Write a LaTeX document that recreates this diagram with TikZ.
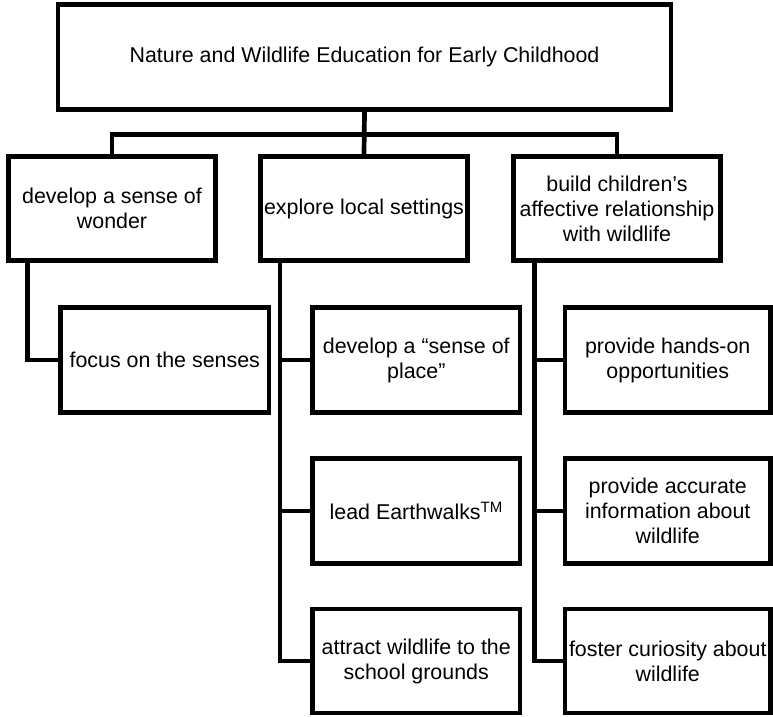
\documentclass[tikz,border=0pt]{standalone}
\usepackage{fontspec}
\setmainfont{Liberation Sans}
\begin{document}
\begin{tikzpicture}[x=1pt,y=-1pt,
  box/.style={draw=black, line width=4.7pt, inner sep=0pt, align=center,
    font=\fontsize{21.4}{25}\selectfont, fill=white},
  conn/.style={draw=black, line width=4.7pt, line join=miter}]
\useasboundingbox (0,0) rectangle (773,716);
% top
\node[box, minimum width=613pt, minimum height=105pt] (top) at (364.5,57) {Nature and Wildlife Education for Early Childhood};
% row 1
\node[box, minimum width=207pt, minimum height=104pt] (b1) at (112,208.5) {develop a sense of\\wonder};
\node[box, minimum width=207pt, minimum height=104pt] (b2) at (364,208.5) {explore local settings};
\node[box, minimum width=207pt, minimum height=104pt] (b3) at (617,208.5) {build children’s\\affective relationship\\with wildlife};
% column 1 child
\node[box, minimum width=208.5pt, minimum height=105pt] (s1) at (164.75,360) {focus on the senses};
% column 2 children
\node[box, minimum width=207.5pt, minimum height=105pt] (e1) at (416.25,360) {develop a “sense of\\place”};
\node[box, minimum width=207.5pt, minimum height=105pt] (e2) at (416.25,511) {lead Earthwalks\textsuperscript{TM}};
\node[box, minimum width=207.5pt, minimum height=104pt] (e3) at (416.25,661) {attract wildlife to the\\school grounds};
% column 3 children
\node[box, minimum width=205.5pt, minimum height=105pt] (w1) at (667.75,360) {provide hands-on\\opportunities};
\node[box, minimum width=205.5pt, minimum height=105pt] (w2) at (667.75,511) {provide accurate\\information about\\wildlife};
\node[box, minimum width=205.5pt, minimum height=104pt] (w3) at (667.75,661) {foster curiosity about\\wildlife};
% connectors
\coordinate (bar) at (364.5,134.5);
\draw[conn] (top.south) -- (b2.north);
\draw[conn] (b1.north) |- (bar) -| (b3.north);
\coordinate (c1) at (27.5,260.5);
\coordinate (c2) at (280,260.5);
\coordinate (c3) at (534.5,260.5);
\draw[conn] (c1) |- (s1.west);
\draw[conn] (c2) |- (e3.west);
\draw[conn] (e1.west) -- (e1.west -| c2);
\draw[conn] (e2.west) -- (e2.west -| c2);
\draw[conn] (c3) |- (w3.west);
\draw[conn] (w1.west) -- (w1.west -| c3);
\draw[conn] (w2.west) -- (w2.west -| c3);
\end{tikzpicture}
\end{document}
